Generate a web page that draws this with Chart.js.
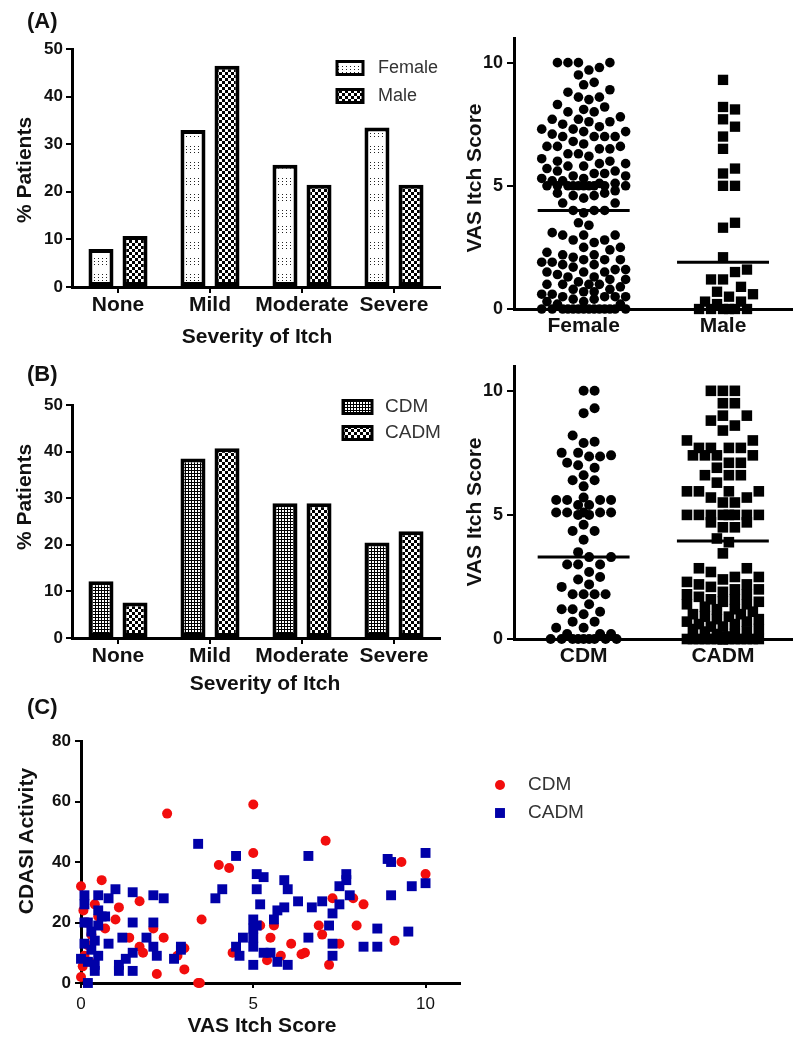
<!DOCTYPE html>
<html>
<head>
<meta charset="utf-8">
<script src="https://cdn.jsdelivr.net/npm/chart.js@4.4.1/dist/chart.umd.min.js"></script>
<style>
    body { margin: 0; background: #fff; }
    #fig { position: relative; width: 800px; height: 1050px; }
    #fig canvas { position: absolute; }
    .lbl {
        position: absolute;
        font: bold 21px "Liberation Sans", Arial, sans-serif;
        color: #111;
        line-height: 1;
        white-space: nowrap;
        transform: translate(-50%, -50%);
    }
    .lbl.v { transform: translate(-50%, -50%) rotate(-90deg); }
    .lbl.panel { font-size: 22px; transform: translate(0, -50%); }
</style>
</head>
<body>
<div id="fig">
    <canvas id="barA" width="450" height="345" style="left:0;top:0"></canvas>
    <canvas id="dotA" width="350" height="345" style="left:450px;top:0"></canvas>
    <canvas id="barB" width="450" height="350" style="left:0;top:345px"></canvas>
    <canvas id="dotB" width="350" height="350" style="left:450px;top:345px"></canvas>
    <canvas id="scatC" width="800" height="360" style="left:0;top:690px"></canvas>

    <div class="lbl panel" style="left:27px;top:21px">(A)</div>
    <div class="lbl panel" style="left:27px;top:374px">(B)</div>
    <div class="lbl panel" style="left:27px;top:707px">(C)</div>
    <div class="lbl v" style="left:23px;top:170px">% Patients</div>
    <div class="lbl" style="left:257px;top:335px">Severity of Itch</div>
    <div class="lbl v" style="left:473px;top:178px">VAS Itch Score</div>
    <div class="lbl v" style="left:23px;top:497px">% Patients</div>
    <div class="lbl" style="left:265px;top:682px">Severity of Itch</div>
    <div class="lbl v" style="left:473px;top:512px">VAS Itch Score</div>
    <div class="lbl v" style="left:25px;top:841px">CDASI Activity</div>
    <div class="lbl" style="left:262px;top:1024px">VAS Itch Score</div>
</div>

<script>
// ---- data ----
const severity = ["None", "Mild", "Moderate", "Severe"];
const femalePct = [8, 33, 25.7, 33.5];
const malePct = [10.7, 46.5, 21.5, 21.5];
const cdmPct = [12.2, 38.5, 28.9, 20.5];
const cadmPct = [7.6, 40.7, 28.9, 22.9];

const sexGroups = ["Female", "Male"];
const sexMeans = [4.0, 1.9];
const femaleVas = [
    10, 10, 10, 10, 9.8, 9.7, 9.5,
    9.2, 9.1, 8.9, 8.8, 8.6, 8.6, 8.5,
    8.3, 8.2, 8.1, 8.0, 8.0,
    7.8, 7.7, 7.7, 7.6, 7.6, 7.5,
    7.4, 7.3, 7.3, 7.2, 7.2, 7.1, 7.0, 7.0, 7.0, 7.0,
    6.8, 6.7, 6.6, 6.6, 6.6, 6.5, 6.5,
    6.3, 6.3, 6.2, 6.1, 6.0, 6.0, 5.9, 5.9, 5.8, 5.8,
    5.7, 5.6, 5.6, 5.5, 5.5, 5.4, 5.4, 5.3, 5.3, 5.2, 5.2, 5.1, 5.1,
    5, 5, 5, 5, 5, 5, 5, 5, 5, 5,
    4.8, 4.7, 4.7, 4.6, 4.6, 4.5, 4.3, 4.3,
    4.0, 4.0, 4.0, 3.9,
    3.5, 3.4, 3.1, 3.0, 3.0, 3.0, 2.8, 2.8, 2.7,
    2.5, 2.5, 2.4, 2.3, 2.2, 2.2, 2.1, 2.0, 2.0, 2.0, 1.9, 1.9, 1.8, 1.8, 1.7,
    1.6, 1.6, 1.5, 1.5, 1.5, 1.4, 1.3, 1.3, 1.2, 1.2, 1.1, 1.0, 1.0, 1.0, 1.0, 0.9,
    0.8, 0.8, 0.7, 0.7, 0.6, 0.6, 0.5, 0.5, 0.5, 0.5, 0.4, 0.4, 0.3, 0.3, 0.2, 0.2,
    0, 0, 0, 0, 0, 0, 0, 0, 0, 0, 0, 0, 0, 0
];
const maleVas = [
    9.3, 8.2, 8.1, 7.7, 7.4, 7.0, 6.5, 5.7, 5.5, 5.0, 5.0, 3.5, 3.3,
    2.1, 1.6, 1.5, 1.2, 1.2, 0.9, 0.7, 0.6, 0.5, 0.3, 0.3, 0.2,
    0, 0, 0, 0, 0, 0
];

const typeGroups = ["CDM", "CADM"];
const typeMeans = [3.3, 3.95];
const cdmVas = [
    10, 10, 9.3, 9.1, 8.2, 7.95, 7.9, 7.5, 7.5, 7.4, 7.35, 7.35, 7.1, 7.0, 6.9,
    6.6, 6.4, 6.4, 6.15, 5.7, 5.6, 5.6, 5.6, 5.6, 5.4, 5.4, 5.1, 5.1, 5.1, 5.1, 5.1,
    5.0, 5.0, 4.6, 4.35, 4.35, 4.0, 3.5, 3.3, 3.3, 3.0, 3.0, 3.0, 2.7, 2.5, 2.4,
    2.2, 2.1, 1.8, 1.8, 1.8, 1.8, 1.4, 1.2, 1.2, 1.1, 1.0, 0.7, 0.7, 0.45, 0.45,
    0.2, 0.2, 0.2, 0, 0, 0, 0, 0, 0, 0, 0, 0
];
const cadmVas = [
    10, 10, 10, 9.5, 9.5, 9.0, 9.0, 8.8, 8.6, 8.4, 8.0, 8.0,
    7.7, 7.7, 7.7, 7.7, 7.4, 7.4, 7.4, 7.4, 7.1, 7.1, 6.9, 6.6, 6.6, 6.6, 6.3,
    5.95, 5.95, 5.95, 5.95, 5.7, 5.7, 5.5, 5.5, 5, 5, 5, 5, 5, 5, 5, 5,
    4.7, 4.7, 4.5, 4.5, 4.05, 3.9, 3.45, 2.85, 2.85, 2.7,
    2.5, 2.5, 2.4, 2.3, 2.2, 2.2, 2.1, 2.0, 2.0, 1.9, 1.8, 1.8, 1.7, 1.6, 1.6,
    1.5, 1.5, 1.4, 1.4, 1.3, 1.2, 1.2, 1.1, 1.0, 1.0, 0.9, 0.9, 0.8, 0.8,
    0.7, 0.7, 0.6, 0.6, 0.5, 0.5, 0.4, 0.4, 0.3, 0.3, 0.2, 0.2, 0.1, 0.1,
    0, 0, 0, 0, 0, 0, 0, 0, 0, 0, 0, 0, 0, 0, 0, 0
];

// panel C: VAS itch score vs CDASI activity
const cdmItch = [
    0, 0.6, 2.5, 5, 5, 7.1, 4, 4.3, 9.3, 10, 8.2, 7.9, 7.3, 8, 9.1, 7.5, 7.2, 7, 6.9, 6.1,
    6.5, 6.4, 5.6, 5.5, 5.8, 5.4, 5.2, 4.4, 3.5, 3.4, 3.45, 3, 3, 2.8, 2.4, 2.2, 2.1, 1.7, 1.8, 1.7,
    1.4, 1.1, 1, 0.7, 0, 0.05, 0.07, 0.1, 0.2, 0.15, 0.4, 0.3, 0.25, 0.5
];
const cdmCdasi = [
    32, 34, 56, 59, 43, 47, 39, 38, 40, 36, 26, 28, 28, 19, 14, 13, 6, 16, 19, 13,
    10, 9.5, 19, 15, 9, 7.5, 19, 10, 21, 0, 0, 4.5, 11.5, 9, 15, 3, 18, 12, 10, 27,
    15, 25, 21, 18, 2, 5.5, 24, 9, 12.5, 20, 26, 16, 7, 22
];
const cadmItch = [
    3.4, 4.5, 6.6, 8.9, 9.0, 10, 10, 9.6, 9.0, 9.5, 8.6, 8.6, 8.2, 7.7, 7.5, 7.7, 7.8, 7.5, 7.3, 7.2,
    7.3, 7.3, 7.0, 6.7, 6.3, 5.9, 6.0, 5.9, 5.7, 5.6, 5.7, 6.0, 6.6, 5.3, 5.1, 5.1, 5.2, 5.0, 5.0, 5.0,
    5.0, 5.0, 5.3, 5.5, 4.7, 4.5, 4.6, 4.1, 3.9, 2.9, 2.9, 2.7, 2.4, 2.1, 2.1, 1.9, 2.1, 2.2, 1.5, 1.5,
    1.5, 1.5, 1.3, 1.1, 1.2, 1.0, 0.8, 0.7, 0.8, 0.5, 0.5, 0.5, 0.4, 0.5, 0.4, 0.2, 0.3, 0.3, 0.2, 0.1,
    0.1, 0.1, 0.1, 0.0, 0.2, 0.6, 0.4, 5.1, 1.1
];
const cadmCdasi = [
    46, 42, 42, 41, 40, 43, 33, 32, 29, 17, 18, 12, 12, 36, 32, 34, 29, 26, 23, 19,
    13, 9, 27, 25, 27, 34, 31, 25, 24, 21, 7, 6, 15, 35, 36, 31, 26, 21, 18, 15,
    12, 6, 10, 10, 15, 12, 9, 31, 28, 12, 11, 8, 28, 29, 20, 15, 12, 9, 30, 20,
    10, 4, 8, 4, 15, 31, 28, 22, 13, 29, 24, 19, 14, 9, 4, 20, 17, 11, 7, 29,
    26, 13, 20, 8, 0, 22, 6, 19, 6
];

// ---- styling ----
const FONT = "'Liberation Sans', Arial, sans-serif";
Chart.defaults.font.family = FONT;
Chart.defaults.color = "#111";
Chart.defaults.animation = false;
Chart.defaults.plugins.legend.display = false;
Chart.defaults.plugins.tooltip.enabled = false;

function makePattern(size, draw) {
    const c = document.createElement("canvas");
    c.width = size[0];
    c.height = size[1];
    const g = c.getContext("2d");
    draw(g);
    return g.createPattern(c, "repeat");
}

function checker(cell) {
    return makePattern([cell * 2, cell * 2], (g) => {
        g.fillStyle = "#000";
        g.fillRect(0, 0, cell * 2, cell * 2);
        g.fillStyle = "#fff";
        g.fillRect(0, 0, cell, cell);
        g.fillRect(cell, cell, cell, cell);
    });
}

const femaleFill = makePattern([8, 16], (g) => {
    g.fillStyle = "#fff";
    g.fillRect(0, 0, 8, 16);
    g.fillStyle = "#222";
    [2, 5, 8].forEach((y) => {
        g.fillRect(2, y, 1, 1);
        g.fillRect(6, y, 1, 1);
    });
});
const maleFill = checker(3);
const cdmFill = makePattern([3, 3], (g) => {
    g.fillStyle = "#000";
    g.fillRect(0, 0, 3, 3);
    g.fillStyle = "#fff";
    g.fillRect(0, 0, 2, 2);
});
const cadmFill = checker(3);

// legend drawn at a fixed spot, using each dataset's own fill / point style
const fixedLegend = {
    id: "fixedLegend",
    afterDraw(chart, args, opts) {
        const ctx = chart.ctx;
        ctx.save();
        ctx.font = opts.font;
        ctx.textBaseline = "middle";
        chart.data.datasets.forEach((ds, i) => {
            const y = opts.y + i * opts.gap;
            if (opts.kind === "box") {
                ctx.fillStyle = ds.backgroundColor;
                ctx.fillRect(opts.x, y - opts.h / 2, opts.w, opts.h);
                ctx.lineWidth = 3;
                ctx.strokeStyle = "#000";
                ctx.strokeRect(opts.x, y - opts.h / 2, opts.w, opts.h);
            } else {
                ctx.fillStyle = ds.pointBackgroundColor;
                if (ds.pointStyle === "rect") {
                    const s = ds.pointRadius * Math.SQRT1_2;
                    ctx.fillRect(opts.x - s, y - s, 2 * s, 2 * s);
                } else {
                    ctx.beginPath();
                    ctx.arc(opts.x, y, ds.pointRadius, 0, Math.PI * 2);
                    ctx.fill();
                }
            }
            ctx.fillStyle = "#333";
            ctx.fillText(ds.label, opts.textX, y);
        });
        ctx.restore();
    },
};

function axisBorder() {
    return { display: true, color: "#000", width: 3 };
}

function tickMarks(len) {
    return { drawOnChartArea: false, drawTicks: true, tickLength: len, color: "#000", lineWidth: 2, offset: false };
}

// ---- bar panels ----
function barPanel(id, series, labels, fills, lay, legend) {
    new Chart(document.getElementById(id), {
        type: "bar",
        data: {
            labels: severity,
            datasets: series.map((s, i) => ({
                label: labels[i],
                data: s,
                backgroundColor: fills[i],
                borderColor: "#000",
                borderWidth: 4,
                borderSkipped: false,
                categoryPercentage: 0.74,
                barPercentage: 0.735,
            })),
        },
        options: {
            responsive: false,
            layout: { padding: { top: lay.top, right: 10, left: 0, bottom: 0 } },
            scales: {
                x: {
                    afterFit: (s) => { s.height = lay.xh; },
                    border: axisBorder(),
                    grid: tickMarks(6),
                    ticks: { autoSkip: false, maxRotation: 0, padding: 0, font: { size: 21, weight: "bold" } },
                },
                y: {
                    min: 0,
                    max: 50,
                    afterFit: (s) => { s.width = 72; },
                    border: axisBorder(),
                    grid: tickMarks(6),
                    ticks: { stepSize: 10, includeBounds: false, padding: 3, font: { size: 17, weight: "bold" } },
                },
            },
            plugins: { fixedLegend: legend },
        },
        plugins: [fixedLegend],
    });
}

barPanel("barA", [femalePct, malePct], ["Female", "Male"], [femaleFill, maleFill],
    { top: 49, xh: 58 },
    { kind: "box", x: 337, y: 68, gap: 28, w: 26, h: 13, textX: 378, font: "18px " + FONT });

barPanel("barB", [cdmPct, cadmPct], ["CDM", "CADM"], [cdmFill, cadmFill],
    { top: 60, xh: 57 },
    { kind: "box", x: 343, y: 62, gap: 26, w: 29, h: 13, textX: 385, font: "19px " + FONT });

// ---- column scatter panels ----
// each value keeps its y; it is slid sideways to the nearest free slot (beeswarm)
function swarm(values, centre, halfPx, pxX, pxY, minDist) {
    const step = minDist / 2;
    const offsets = [0];
    for (let k = 1; k * step <= halfPx; k++) offsets.push(k * step, -k * step);
    const placed = [];
    return values.slice().sort((a, b) => a - b).map((v) => {
        const py = v * pxY;
        let best = 0;
        let bestGap = -1;
        for (const dx of offsets) {
            let gap = Infinity;
            for (const p of placed) {
                gap = Math.min(gap, Math.hypot(p.dx - dx, p.py - py));
            }
            if (gap > bestGap) {
                best = dx;
                bestGap = gap;
            }
            if (gap >= minDist) break;
        }
        placed.push({ dx: best, py });
        return { x: centre + best / pxX, y: v };
    });
}

function columnPanel(id, names, groups, means, lay) {
    const cv = document.getElementById(id);
    const pxX = (cv.width - 64 - 7) / 2;
    const pxY = (cv.height - lay.top - lay.xh) / 11;
    const datasets = [];
    groups.forEach((g, i) => {
        datasets.push({
            data: swarm(g.values, i + 1, g.half, pxX, pxY, g.gap),
            pointStyle: g.style,
            pointRadius: g.r,
            pointBackgroundColor: "#000",
            pointBorderWidth: 0,
            clip: false,
        });
        datasets.push({
            data: [{ x: i + 1 - 0.33, y: means[i] }, { x: i + 1 + 0.33, y: means[i] }],
            showLine: true,
            borderColor: "#000",
            borderWidth: 3,
            pointRadius: 0,
            clip: false,
        });
    });
    new Chart(cv, {
        type: "scatter",
        data: { datasets },
        options: {
            responsive: false,
            layout: { padding: { top: lay.top, right: 7, left: 0, bottom: 0 } },
            scales: {
                x: {
                    type: "linear",
                    min: 0.5,
                    max: 2.5,
                    afterFit: (s) => { s.height = lay.xh; },
                    afterBuildTicks: (s) => { s.ticks = names.map((n, i) => ({ value: i + 1 })); },
                    border: axisBorder(),
                    grid: { display: false, drawTicks: false },
                    ticks: { callback: (v, i) => names[i], padding: 5, font: { size: 21, weight: "bold" } },
                },
                y: {
                    min: 0,
                    max: 11,
                    afterFit: (s) => { s.width = 64; },
                    border: axisBorder(),
                    grid: tickMarks(7),
                    ticks: { stepSize: 5, includeBounds: false, padding: 4, font: { size: 18, weight: "bold" } },
                },
            },
        },
    });
}

columnPanel("dotA", sexGroups, [
    { values: femaleVas, style: "circle", r: 4.8, half: 42, gap: 10.5 },
    { values: maleVas, style: "rect", r: 7.3, half: 34, gap: 12 },
], sexMeans, { top: 38, xh: 36 });

columnPanel("dotB", typeGroups, [
    { values: cdmVas, style: "circle", r: 5, half: 38, gap: 11 },
    { values: cadmVas, style: "rect", r: 7.5, half: 40, gap: 12 },
], typeMeans, { top: 21, xh: 56 });

// ---- panel C ----
new Chart(document.getElementById("scatC"), {
    type: "scatter",
    data: {
        datasets: [
            {
                label: "CDM",
                data: cdmItch.map((x, i) => ({ x, y: cdmCdasi[i] })),
                pointStyle: "circle",
                pointRadius: 5,
                pointBackgroundColor: "#f20d0d",
                pointBorderWidth: 0,
                clip: false,
                order: 1,
            },
            {
                label: "CADM",
                data: cadmItch.map((x, i) => ({ x, y: cadmCdasi[i] })),
                pointStyle: "rect",
                pointRadius: 7,
                pointBackgroundColor: "#0000a8",
                pointBorderWidth: 0,
                clip: false,
                order: 0,
            },
        ],
    },
    options: {
        responsive: false,
        layout: { padding: { top: 51, right: 340, left: 0, bottom: 0 } },
        scales: {
            x: {
                min: 0,
                max: 11,
                afterFit: (s) => { s.height = 67; },
                border: axisBorder(),
                grid: tickMarks(5),
                ticks: { stepSize: 5, includeBounds: false, padding: 6, font: { size: 17 } },
            },
            y: {
                min: 0,
                max: 80,
                afterFit: (s) => { s.width = 81; },
                border: axisBorder(),
                grid: tickMarks(6),
                ticks: { stepSize: 20, includeBounds: false, padding: 4, font: { size: 17, weight: "bold" } },
            },
        },
        plugins: {
            fixedLegend: { kind: "point", x: 500, y: 95, gap: 28, textX: 528, font: "19px " + FONT },
        },
    },
    plugins: [fixedLegend],
});
</script>
</body>
</html>
